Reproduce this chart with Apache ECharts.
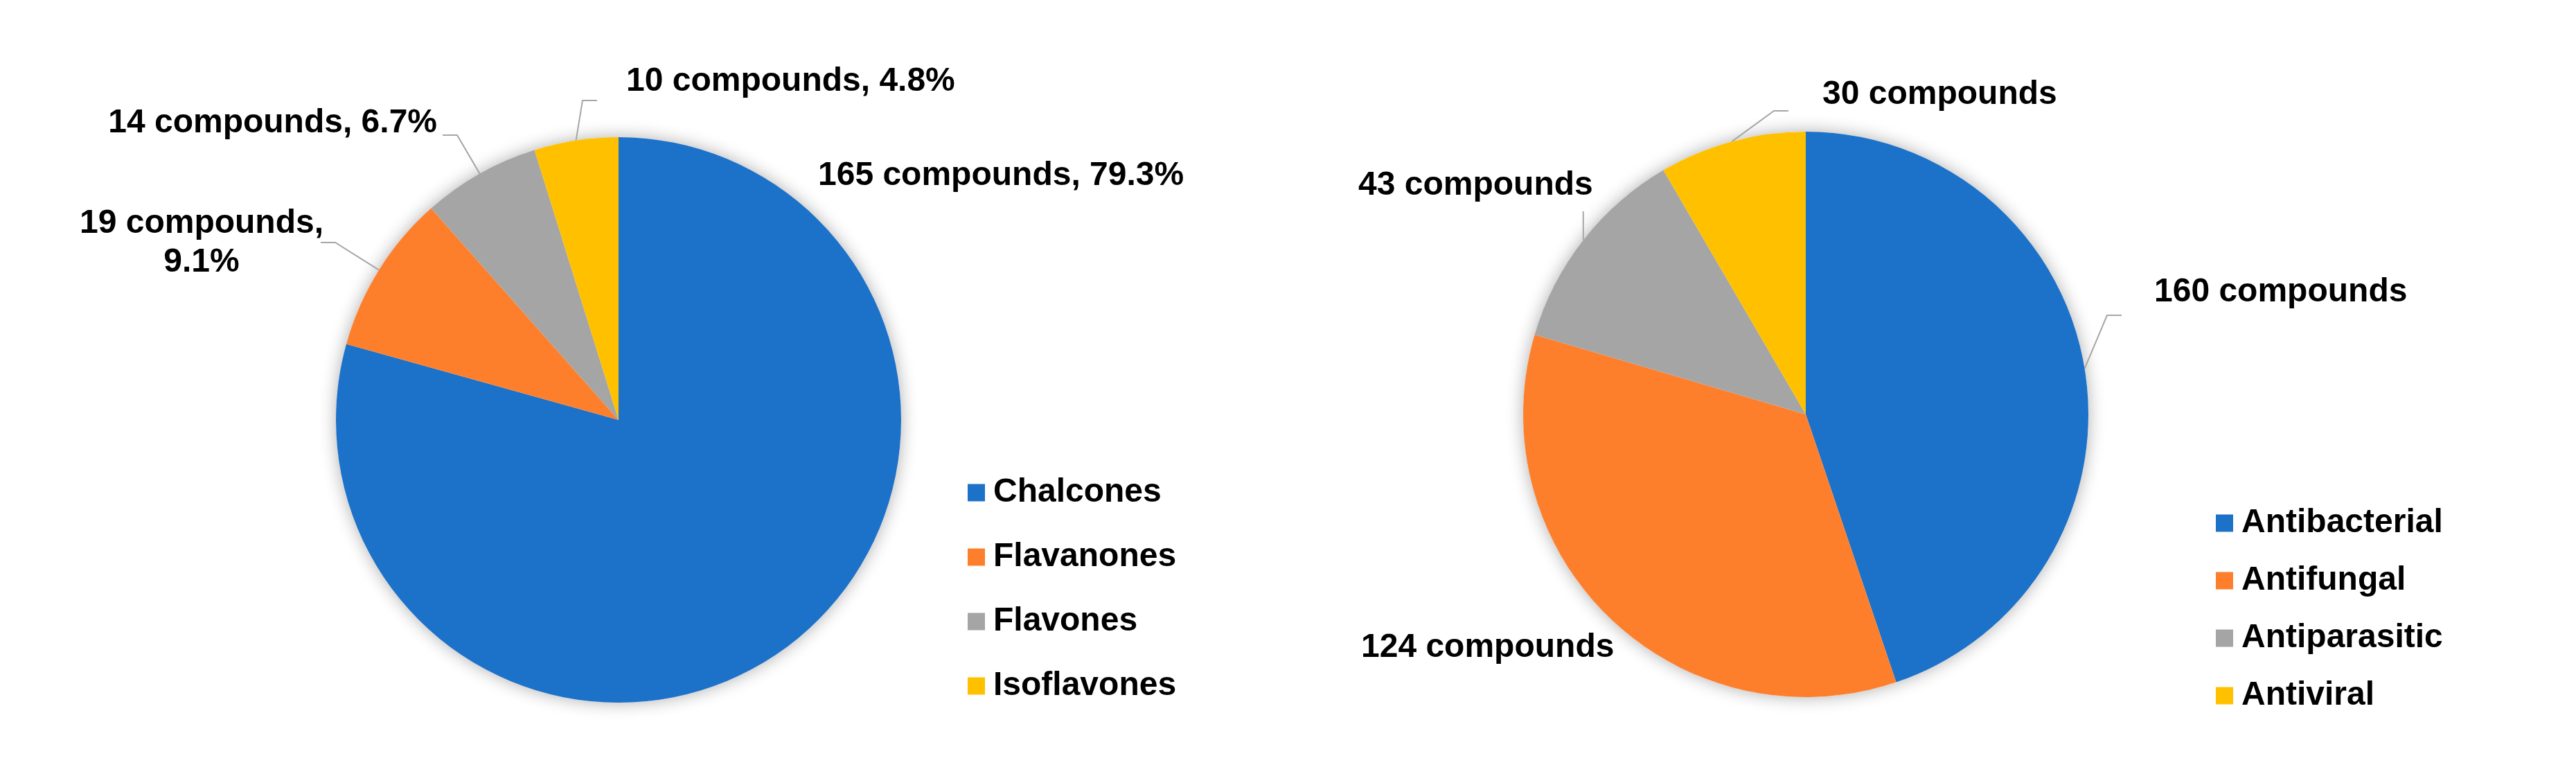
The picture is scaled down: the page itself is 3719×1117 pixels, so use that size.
<!DOCTYPE html>
<html>
<head>
<meta charset="utf-8">
<title>Compounds by class and by activity</title>
<script src="https://cdn.jsdelivr.net/npm/echarts@6/dist/echarts.min.js"></script>
<style>
  html, body { margin: 0; padding: 0; background: #fff; }
  #chart { width: 3719px; height: 1117px; }
</style>
</head>
<body>
<div id="chart"></div>
<script>
// left pie: compound classes
const classNames = ['Chalcones', 'Flavanones', 'Flavones', 'Isoflavones'];
const classCounts = [165, 19, 14, 10];

// right pie: biological activity
const activityNames = ['Antibacterial', 'Antifungal', 'Antiparasitic', 'Antiviral'];
const activityCounts = [160, 124, 43, 30];

const sliceColors = ['#1c71c9', '#fd7f2c', '#a5a5a5', '#ffc000'];
const font = "'Liberation Sans', Arial, Helvetica, sans-serif";
const pieRadius = 408;

// label placement (anchor + where the leader line ends, relative to the anchor)
const classLabels = [
  { x: 1181, y: 254, align: 'left' },
  { x: 291, y: 351, align: 'center', wrap: true, end: [172, -1] },
  { x: 631, y: 178, align: 'right', end: [8, 17] },
  { x: 904, y: 118, align: 'left', end: [-42, 27] },
];
const activityLabels = [
  { x: 3110, y: 422, align: 'left', end: [-47, 33] },
  { x: 1965, y: 935, align: 'left' },
  { x: 1961, y: 268, align: 'left', vertical: true, end: [0, 37] },
  { x: 2631, y: 137, align: 'left', end: [-49, 23] },
];

const sum = arr => arr.reduce((a, b) => a + b, 0);

function placeLabels(cfg) {
  return function (params) {
    const c = cfg[params.dataIndex];
    const out = { x: c.x, y: c.y, align: c.align, verticalAlign: 'middle' };
    const pts = params.labelLinePoints;
    if (pts && c.end) {
      const p0 = pts[0];
      let p1, p2;
      if (c.vertical) {
        p2 = [p0[0], c.y + c.end[1]];
        p1 = p2.slice();
      } else {
        const dir = c.x > p0[0] ? 1 : -1;
        p2 = [c.x + c.end[0], c.y + c.end[1]];
        p1 = [p2[0] - dir * 21, p2[1]];
      }
      out.labelLinePoints = [p0, p1, p2];
    }
    return out;
  };
}

function buildData(names, values, cfg) {
  return names.map((name, i) => ({
    name: name,
    value: values[i],
    itemStyle: { color: sliceColors[i] },
    labelLine: { show: !!cfg[i].end },
  }));
}

function shadowDisc(center, values) {
  return {
    type: 'pie',
    silent: true,
    z: 1,
    center: center,
    radius: pieRadius,
    label: { show: false },
    labelLine: { show: false },
    data: [{
      name: 'shadow',
      value: sum(values),
      itemStyle: { color: '#fff', shadowBlur: 24, shadowColor: 'rgba(0,0,0,0.32)' },
    }],
  };
}

function pieSeries(center, names, values, cfg, textFn) {
  const total = sum(values);
  return {
    type: 'pie',
    silent: true,
    z: 2,
    center: center,
    radius: pieRadius,
    startAngle: 90,
    clockwise: true,
    avoidLabelOverlap: false,
    itemStyle: { borderWidth: 0 },
    label: {
      show: true,
      position: 'outside',
      color: '#000',
      fontFamily: font,
      fontWeight: 'bold',
      fontSize: 48,
      lineHeight: 56,
      formatter: p => textFn(p, total, cfg[p.dataIndex]),
    },
    labelLine: {
      show: true,
      length: 10,
      length2: 10,
      lineStyle: { color: '#a6a6a6', width: 2 },
    },
    labelLayout: placeLabels(cfg),
    data: buildData(names, values, cfg),
  };
}

const legendText = {
  color: '#000',
  fontFamily: font,
  fontWeight: 'bold',
  fontSize: 48,
  lineHeight: 48,
  padding: [0, 0, 0, 7],
};

const chart = echarts.init(document.getElementById('chart'));
chart.setOption({
  animation: false,
  backgroundColor: '#fff',
  textStyle: { fontFamily: font },
  legend: [
    {
      data: classNames,
      orient: 'vertical',
      left: 1392,
      top: 682,
      icon: 'rect',
      itemWidth: 25,
      itemHeight: 25,
      itemGap: 45,
      selectedMode: false,
      textStyle: legendText,
    },
    {
      data: activityNames,
      orient: 'vertical',
      left: 3194,
      top: 726,
      icon: 'rect',
      itemWidth: 25,
      itemHeight: 25,
      itemGap: 35,
      selectedMode: false,
      textStyle: legendText,
    },
  ],
  series: [
    shadowDisc([893, 606], classCounts),
    pieSeries([893, 606], classNames, classCounts, classLabels, (p, total, c) => {
      const pct = (p.value / total * 100).toFixed(1);
      return p.value + ' compounds,' + (c.wrap ? '\n' : ' ') + pct + '%';
    }),
    shadowDisc([2607, 598], activityCounts),
    pieSeries([2607, 598], activityNames, activityCounts, activityLabels, p => p.value + ' compounds'),
  ],
});
</script>
</body>
</html>
